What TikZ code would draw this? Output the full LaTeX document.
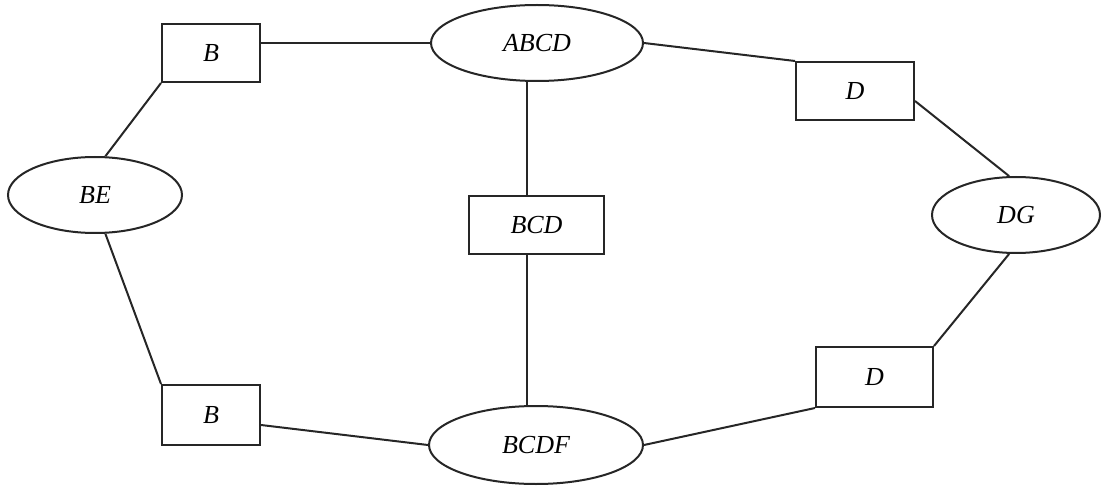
\documentclass[tikz,border=0pt]{standalone}
\usepackage{fontspec}
\setmainfont{Liberation Serif}
\usetikzlibrary{shapes.geometric}
\begin{document}
\begin{tikzpicture}[x=1pt,y=-1pt,
  lbl/.style={font=\fontsize{26}{30}\selectfont\itshape, inner sep=0pt, draw=black!85, line width=2pt, fill=white},
  sepbox/.style={lbl, rectangle},
  clique/.style={lbl, ellipse},
  link/.style={draw=black!85, line width=2pt}]
\useasboundingbox (0,0) rectangle (1102,486);
% cliques
\node[clique, minimum width=212pt, minimum height=76pt] (ABCD) at (537,43) {ABCD};
\node[clique, minimum width=174pt, minimum height=76pt] (BE) at (95,195) {BE};
\node[clique, minimum width=168pt, minimum height=76pt] (DG) at (1016,215) {DG};
\node[clique, minimum width=214pt, minimum height=78pt] (BCDF) at (536,445) {BCDF};
% separators
\node[sepbox, minimum width=98pt, minimum height=58pt] (B1) at (211,53) {B};
\node[sepbox, minimum width=98pt, minimum height=60pt] (B2) at (211,415) {B};
\node[sepbox, minimum width=118pt, minimum height=58pt] (D1) at (855,91) {D};
\node[sepbox, minimum width=117pt, minimum height=60pt] (D2) at (874.5,377) {D};
\node[sepbox, minimum width=135pt, minimum height=58pt] (BCD) at (536.5,225) {BCD};
\coordinate (vx) at (527,0);
% connectors
\draw[link] (ABCD.west) -- (ABCD.west -| B1.east);
\draw[link] (B1.south west) -- (BE.75);
\draw[link] (BE.285) -- (B2.north west);
\draw[link] ([yshift=-10pt]B2.east) -- (BCDF.west);
\draw[link] (BCDF.east) -- (D2.south west);
\draw[link] (D2.north east) -- (DG.260);
\draw[link] ([yshift=-10pt]D1.east) -- (DG.100);
\draw[link] (ABCD.east) -- (D1.north west);
\draw[link] (ABCD.south -| vx) -- (BCD.north -| vx);
\draw[link] (BCD.south -| vx) -- (BCDF.north -| vx);
\end{tikzpicture}
\end{document}
